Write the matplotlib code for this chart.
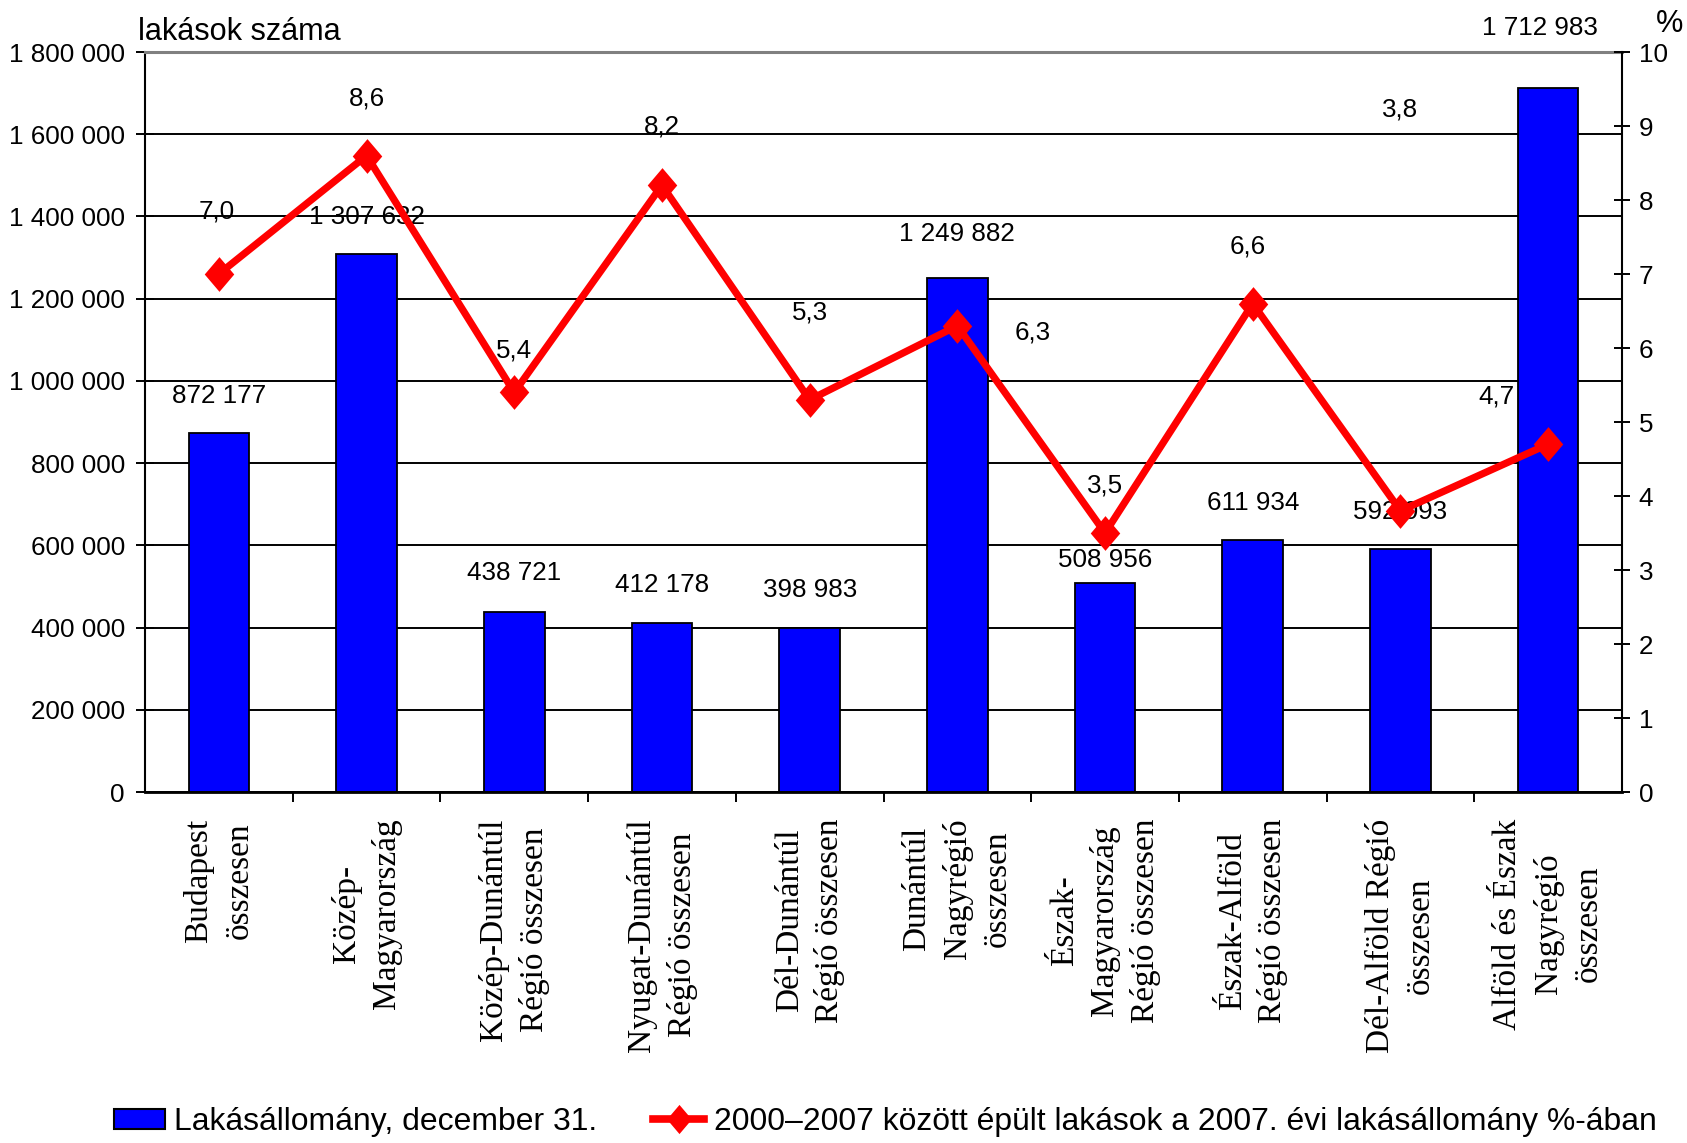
import matplotlib
matplotlib.use("Agg")
import matplotlib.pyplot as plt
from matplotlib import font_manager as fm
from matplotlib.path import Path
from matplotlib.lines import Line2D
from matplotlib.patches import Patch
import numpy as np

# ---------------- data ----------------
categories = [
    "Budapest\nösszesen",
    "Közép-\nMagyarország",
    "Közép-Dunántúl\nRégió összesen",
    "Nyugat-Dunántúl\nRégió összesen",
    "Dél-Dunántúl\nRégió összesen",
    "Dunántúl\nNagyrégió\nösszesen",
    "Észak-\nMagyarország\nRégió összesen",
    "Észak-Alföld\nRégió összesen",
    "Dél-Alföld Régió\nösszesen",
    "Alföld és Észak\nNagyrégió\nösszesen",
]
stock = [872177, 1307632, 438721, 412178, 398983, 1249882, 508956, 611934, 592093, 1712983]
share = [7.0, 8.6, 5.4, 8.2, 5.3, 6.3, 3.5, 6.6, 3.8, 4.7]
left_ticks = [0, 200000, 400000, 600000, 800000, 1000000, 1200000, 1400000, 1600000, 1800000]
right_ticks = [0, 1, 2, 3, 4, 5, 6, 7, 8, 9, 10]
left_title = "lakások száma"
right_title = "%"
legend_labels = ["Lakásállomány, december 31.",
                 "2000–2007 között épült lakások a 2007. évi lakásállomány %-ában"]

# label offsets (points) – styling only
bar_label_dy = [27, 27, 28, 27, 27, 32, 16.5, 27, 26.5, 43]
bar_label_dx = [0, 0, 0, 0, 0, 0, 0, 0, 0, -6]
line_label_off = [(-1.5, 45), (0, 41), (0, 30), (0, 42.5), (0, 63),
                  (54, -5), (0, 34), (-3.5, 41), (0, 289), (-37, 34)]

# ---------------- fonts ----------------
names = {f.name for f in fm.fontManager.ttflist}
if "Liberation Sans Narrow" in names:
    SANS = ["Liberation Sans Narrow", "DejaVu Sans"]
    k = 1.0
else:
    SANS = ["Liberation Sans", "DejaVu Sans"]
    k = 0.85
SERIF = ["Liberation Serif", "DejaVu Serif"]
plt.rcParams["font.family"] = SANS

def hu_int(n):
    return f"{n:,}".replace(",", " ")

def hu_dec(v):
    return f"{v:.1f}".replace(".", ",")

W, H = 1687, 1143
fig = plt.figure(figsize=(W / 100, H / 100), dpi=100)
L, R, T, B = 145, 1622, 52, 792
ax = fig.add_axes([L / W, 1 - B / H, (R - L) / W, (B - T) / H])
ax2 = ax.twinx()

x = np.arange(len(categories))
ax.bar(x, stock, width=0.41, color="#0000FF", edgecolor="black", linewidth=1.3, zorder=2)
ax.set_xlim(-0.5, len(categories) - 0.5)
ax.set_ylim(0, 1800000)
ax.set_yticks(left_ticks)
ax.set_yticklabels([hu_int(t) for t in left_ticks], fontsize=22 * k, family=SANS)
ax.set_axisbelow(True)
ax.yaxis.grid(True, color="black", linewidth=1.4)
ax.tick_params(axis="y", direction="inout", length=13, width=1.4, pad=8)
ax.set_xticks(x)
ax.set_xticklabels(categories, rotation=90, ha="center", va="top",
                   family=SERIF, fontsize=24, linespacing=1.4, multialignment="center")
ax.tick_params(axis="x", which="major", length=0, pad=19)
ax.set_xticks(np.arange(0.5, len(categories) - 1, 1), minor=True)
ax.tick_params(axis="x", which="minor", direction="out", length=7.5, width=1.4)
for s in ["left", "bottom"]:
    ax.spines[s].set_linewidth(1.5)
    ax.spines[s].set_color("black")
ax.spines["bottom"].set_linewidth(2)
ax.spines["top"].set_color("#808080")
ax.spines["top"].set_linewidth(2.2)
ax.spines["right"].set_visible(False)

for i, v in enumerate(stock):
    ax.annotate(hu_int(v), xy=(i, v), xytext=(bar_label_dx[i], bar_label_dy[i]),
                textcoords="offset points", ha="center", va="center",
                fontsize=22 * k, family=SANS, zorder=3)

diamond = Path([(0, 1), (0.85, 0), (0, -1), (-0.85, 0), (0, 1)],
               [Path.MOVETO, Path.LINETO, Path.LINETO, Path.LINETO, Path.CLOSEPOLY])

ax2.plot(x, share, color="#FF0000", linewidth=5.2, marker=diamond, markersize=25,
         markeredgewidth=0, markerfacecolor="#FF0000", solid_joinstyle="miter", zorder=4)
ax2.set_ylim(0, 10)
ax2.set_yticks(right_ticks)
ax2.set_yticklabels([str(t) for t in right_ticks], fontsize=22 * k, family=SANS)
ax2.tick_params(axis="y", direction="inout", length=12, width=1.4, pad=6)
for s in ["left", "top", "bottom"]:
    ax2.spines[s].set_visible(False)
ax2.spines["right"].set_linewidth(1.5)
ax2.spines["right"].set_color("black")

for i, v in enumerate(share):
    dx, dy = line_label_off[i]
    ax2.annotate(hu_dec(v), xy=(i, v), xytext=(dx, dy), textcoords="offset points",
                 ha="center", va="center", fontsize=22 * k, family=SANS, zorder=5)

fig.text(138 / W, 1 - 40 / H, left_title, ha="left", va="baseline",
         fontsize=26 * k, family=SANS)
fig.text(1670 / W, 1 - 24 / H, right_title, ha="center", va="center",
         fontsize=26 * k, family=SANS)

handles = [Patch(facecolor="#0000FF", edgecolor="black", linewidth=1.5),
           Line2D([], [], color="#FF0000", linewidth=5.5, marker=diamond, markersize=21,
                  markeredgewidth=0)]
fig.legend(handles, legend_labels, loc="center", bbox_to_anchor=(885 / W, 1 - 1122 / H),
           ncol=2, frameon=False, prop={"family": SANS, "size": 27 * k},
           handlelength=1.6, handletextpad=0.3, columnspacing=1.75, handleheight=0.6,
           borderpad=0, borderaxespad=0)

fig.savefig("out.png", dpi=100)
